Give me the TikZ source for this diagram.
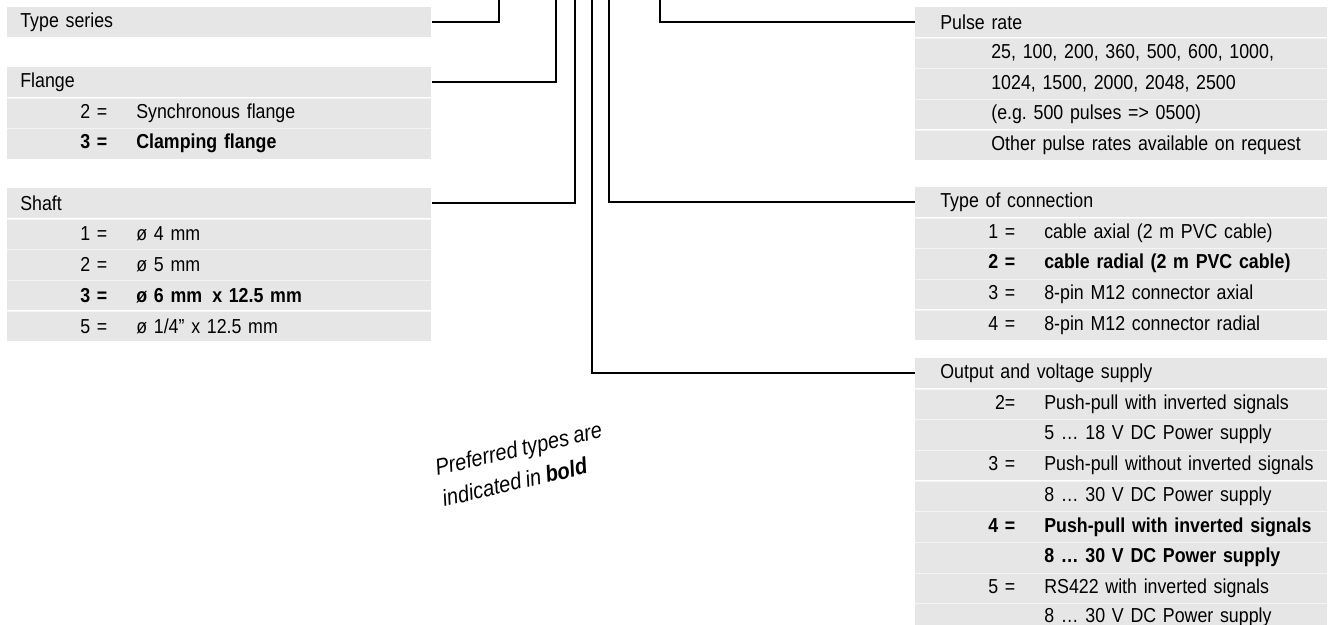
\documentclass[tikz,border=0pt]{standalone}
\usepackage{fontspec}
\setmainfont{Liberation Sans}[FakeStretch=0.88,WordSpace=0.85]
\frenchspacing
\usetikzlibrary{positioning}
\definecolor{panelGrey}{RGB}{230,230,230}
\definecolor{rowLine}{RGB}{244,244,244}
\newcommand{\mainsize}{\fontsize{11.5}{13}\selectfont}
% number column, then the text of the row
\newcommand{\nr}[2]{\makebox[2cm][r]{#1}\hspace*{0.58cm}#2}
\tikzset{
	lhead/.style={fill=panelGrey,inner sep=0pt,minimum height=0.6cm,text width=8.48cm,align=left,font=\mainsize,anchor=north west,execute at begin node=\hspace*{0.26cm}},
	rhead/.style={lhead,text width=8.24cm,execute at begin node=\hspace*{0.24cm}},
	sep/.style={path picture={\draw[rowLine,line width=0.6pt] (path picture bounding box.north west) -- (path picture bounding box.north east);}},
	lrow/.style={fill=panelGrey,inner sep=0pt,minimum height=0.6cm,text width=8.48cm,align=left,font=\mainsize,sep},
	rrow/.style={lrow,text width=8.24cm},
	lead/.style={line width=1.2pt},
	note/.style={inner sep=0pt,align=left,font=\fontsize{13}{18}\selectfont\itshape},
}
\begin{document}
\begin{tikzpicture}[x=0.02cm,y=-0.02cm]
	\useasboundingbox (0,0) rectangle (1336,625);
	
	% left column
	\node (hSeries) at (7,7) [lhead] {Type series};
	
	\node (hFlange) at (7,67) [lhead] {Flange};
	\node (rFlange2) [lrow,below=0pt of hFlange] {\nr{2 =}{Synchronous flange}};
	\node (rFlange3) [lrow,below=0pt of rFlange2] {\bfseries\nr{3 =}{Clamping flange}};
	
	\node (hShaft) at (7,188) [lhead] {Shaft};
	\node (rShaft1) [lrow,below=0pt of hShaft] {\nr{1 =}{ø 4 mm}};
	\node (rShaft2) [lrow,below=0pt of rShaft1] {\nr{2 =}{ø 5 mm}};
	\node (rShaft3) [lrow,below=0pt of rShaft2] {\bfseries\nr{3 =}{ø 6 mm\hspace{0.5em}x 12.5 mm}};
	\node (rShaft5) [lrow,below=0pt of rShaft3] {\nr{5 =}{ø 1/4” x 12.5 mm}};
	
	% right column
	\node (hPulse) at (915,7) [rhead] {Pulse rate};
	\node (rPulse1) [rrow,below=0pt of hPulse] {\hspace*{1.52cm}25, 100, 200, 360, 500, 600, 1000,};
	\node (rPulse2) [rrow,below=0pt of rPulse1] {\hspace*{1.52cm}1024, 1500, 2000, 2048, 2500};
	\node (rPulse3) [rrow,below=0pt of rPulse2] {\hspace*{1.52cm}(e.g. 500 pulses => 0500)};
	\node (rPulse4) [rrow,below=0pt of rPulse3] {\hspace*{1.52cm}Other pulse rates available on request};
	
	\node (hConn) at (915,187) [rhead] {Type of connection};
	\node (rConn1) [rrow,below=0pt of hConn] {\nr{1 =}{cable axial (2 m PVC cable)}};
	\node (rConn2) [rrow,below=0pt of rConn1] {\bfseries\nr{2 =}{cable radial (2 m PVC cable)}};
	\node (rConn3) [rrow,below=0pt of rConn2] {\nr{3 =}{8-pin M12 connector axial}};
	\node (rConn4) [rrow,below=0pt of rConn3] {\nr{4 =}{8-pin M12 connector radial}};
	
	\node (hOut) at (915,358) [rhead] {Output and voltage supply};
	\node (rOut2a) [rrow,below=0pt of hOut] {\nr{2=}{Push-pull with inverted signals}};
	\node (rOut2b) [rrow,below=0pt of rOut2a] {\nr{}{5 … 18 V DC Power supply}};
	\node (rOut3a) [rrow,below=0pt of rOut2b] {\nr{3 =}{Push-pull without inverted signals}};
	\node (rOut3b) [rrow,below=0pt of rOut3a] {\nr{}{8 … 30 V DC Power supply}};
	\node (rOut4a) [rrow,below=0pt of rOut3b] {\bfseries\nr{4 =}{Push-pull with inverted signals}};
	\node (rOut4b) [rrow,below=0pt of rOut4a] {\bfseries\nr{}{8 … 30 V DC Power supply}};
	\node (rOut5a) [rrow,below=0pt of rOut4b] {\nr{5 =}{RS422 with inverted signals}};
	\node (rOut5b) [rrow,below=0pt of rOut5a,minimum height=0.52cm] {\nr{}{8 … 30 V DC Power supply}};
	
	% leads up to the type key
	\coordinate (topSeries) at (499,0);
	\coordinate (topFlange) at (556,0);
	\coordinate (topShaft) at (575,0);
	\coordinate (topOut) at (592,0);
	\coordinate (topConn) at (609,0);
	\coordinate (topPulse) at (660,0);
	\draw[lead] (hSeries.east) -| (topSeries);
	\draw[lead] (hFlange.east) -| (topFlange);
	\draw[lead] (hShaft.east) -| (topShaft);
	\draw[lead] (topOut) |- (hOut.west);
	\draw[lead] (topConn) |- (hConn.west);
	\draw[lead] (topPulse) |- (hPulse.west);
	
	\node (note) at (522,464) [note,rotate=13] {Preferred types are\\indicated in \textbf{bold}};
\end{tikzpicture}
\end{document}
